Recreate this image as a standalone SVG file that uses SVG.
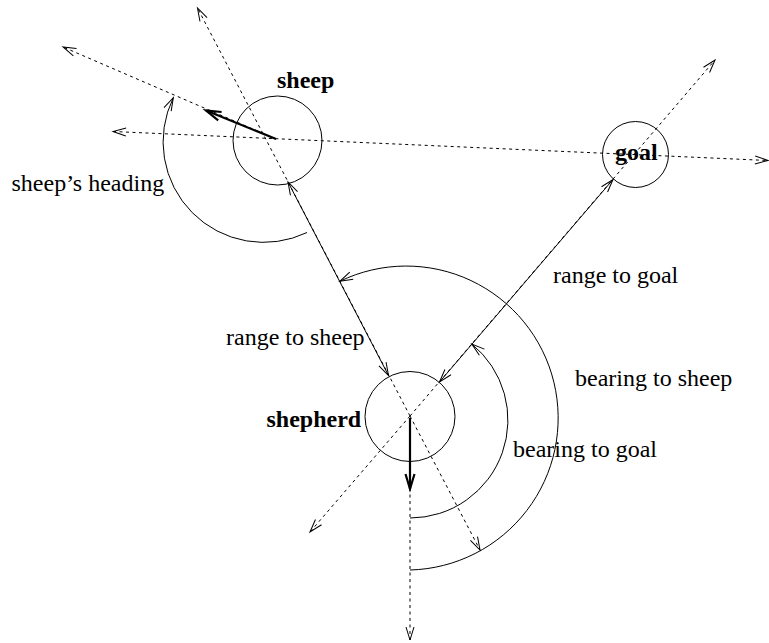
<svg xmlns="http://www.w3.org/2000/svg" width="769" height="643" viewBox="0 0 769 643">
  <style>
    .node { fill: none; stroke: #000; stroke-width: 1; }
    .dot { fill: none; stroke: #000; stroke-width: 1; stroke-dasharray: 3 3.5; }
    .solid { fill: none; stroke: #000; stroke-width: 1; }
    .thick { fill: none; stroke: #000; stroke-width: 2.2; }
    .lbl { font-family: "Liberation Serif", "Times New Roman", serif; font-size: 24px; fill: #000; }
    .bold { font-weight: bold; }
  </style>
  <defs>
    <marker id="ah" markerUnits="userSpaceOnUse" markerWidth="30" markerHeight="30" refX="0" refY="0" orient="auto-start-reverse" overflow="visible" viewBox="-15 -15 30 30">
      <path d="M-13,-4 L0,0 L-13,4" fill="none" stroke="#000" stroke-width="1"/>
    </marker>
    <marker id="ahT" markerUnits="userSpaceOnUse" markerWidth="30" markerHeight="30" refX="0" refY="0" orient="auto" overflow="visible" viewBox="-15 -15 30 30">
      <path d="M-15,-4.5 L0,0 L-15,4.5" fill="none" stroke="#000" stroke-width="2.2"/>
    </marker>
  </defs>

  <g id="connectors">
    <!-- dotted reference lines -->
    <line class="dot" x1="113" y1="131.5" x2="768" y2="160.5" marker-start="url(#ah)" marker-end="url(#ah)"/>
    <line class="dot" x1="276" y1="139" x2="63" y2="47" marker-end="url(#ah)"/>
    <line class="dot" x1="410" y1="416" x2="197.5" y2="8" marker-end="url(#ah)"/>
    <line class="dot" x1="410" y1="416" x2="715" y2="60" marker-end="url(#ah)"/>
    <line class="dot" x1="410" y1="416" x2="310" y2="532" marker-end="url(#ah)"/>
    <line class="dot" x1="410" y1="416" x2="480" y2="550" marker-end="url(#ah)"/>
    <line class="dot" x1="410" y1="488" x2="410" y2="640" marker-end="url(#ah)"/>

    <!-- ranges -->
    <line class="solid" x1="388.5" y1="375.5" x2="288" y2="182" marker-start="url(#ah)" marker-end="url(#ah)"/>
    <line class="solid" x1="439.5" y1="382" x2="613" y2="179.5" marker-start="url(#ah)" marker-end="url(#ah)"/>

    <!-- headings -->
    <line class="thick" x1="276" y1="139" x2="206" y2="110.5" marker-end="url(#ahT)"/>
    <line class="thick" x1="410" y1="418" x2="410" y2="489" marker-end="url(#ahT)"/>

    <!-- angle arcs -->
    <path class="solid" d="M307,232.5 A100.5,100.5 0 0 1 173.3,97.7" marker-end="url(#ah)"/>
    <path class="solid" d="M410,570 A152,152 0 1 0 339.8,281.3" marker-end="url(#ah)"/>
    <path class="solid" d="M410,518 A98,98 0 0 0 471.8,344" marker-end="url(#ah)"/>

    <!-- connector labels -->
    <text class="lbl" x="11.5" y="191">sheep’s heading</text>
    <text class="lbl" x="226" y="344.5">range to sheep</text>
    <text class="lbl" x="553" y="283">range to goal</text>
    <text class="lbl" x="575" y="386">bearing to sheep</text>
    <text class="lbl" x="513" y="457">bearing to goal</text>
  </g>

  <g id="sheep">
    <circle class="node" cx="277.5" cy="140.5" r="44.5"/>
    <text class="lbl bold" x="277" y="88">sheep</text>
  </g>

  <g id="goal">
    <circle class="node" cx="635.5" cy="154.5" r="33"/>
    <text class="lbl bold" x="615" y="160">goal</text>
  </g>

  <g id="shepherd">
    <circle class="node" cx="410" cy="416.5" r="45"/>
    <text class="lbl bold" x="266.5" y="427">shepherd</text>
  </g>
</svg>
